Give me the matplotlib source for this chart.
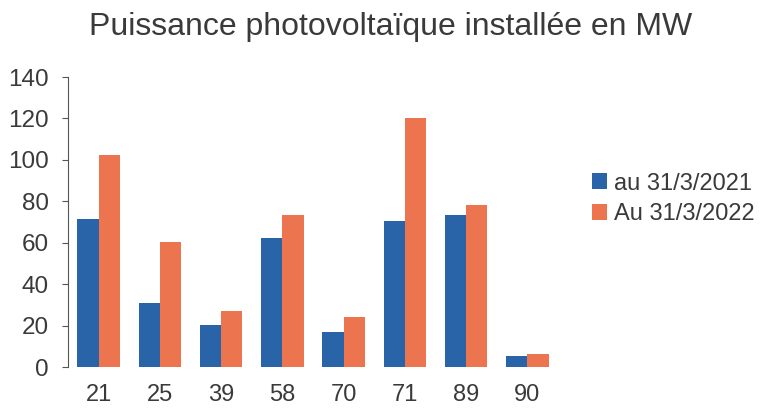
import matplotlib

matplotlib.use("Agg")
import matplotlib.pyplot as plt
import numpy as np

departements = ["21", "25", "39", "58", "70", "71", "89", "90"]
mw_2021 = [71.3, 31.1, 20.2, 62.1, 16.9, 70.6, 73.4, 5.2]
mw_2022 = [102.3, 60.5, 26.9, 73.4, 23.9, 120.3, 78.4, 6.4]
series_labels = ["au 31/3/2021", "Au 31/3/2022"]
title = "Puissance photovoltaïque installée en MW"

plt.rcParams["font.family"] = ["Liberation Sans", "DejaVu Sans"]
text_color = "#3a3a3a"

fig = plt.figure(figsize=(7.62, 4.09), dpi=100)
ax = fig.add_axes([68 / 762, 1 - 367 / 409, 490 / 762, 290 / 409])

x = np.arange(len(departements))
width = 0.345
ax.bar(x - width / 2, mw_2021, width, color="#2a64a8", label=series_labels[0])
ax.bar(x + width / 2, mw_2022, width, color="#ec7550", label=series_labels[1])

ax.set_xlim(-0.5, len(departements) - 0.5)
ax.set_ylim(0, 140)
ax.set_yticks(range(0, 141, 20))
ax.set_xticks(x)
ax.set_xticklabels(departements)
for side in ("top", "right", "bottom"):
    ax.spines[side].set_visible(False)
ax.spines["left"].set_color("#555555")
ax.spines["left"].set_linewidth(0.8)
ax.tick_params(axis="y", length=4, width=0.8, color="#555555", labelsize=17.5, labelcolor=text_color, pad=10)
ax.tick_params(axis="x", length=0, labelsize=17, labelcolor=text_color, pad=12)

fig.text(0.512, 0.935, title, ha="center", va="center", fontsize=23, color=text_color)

ax.legend(loc="center left", bbox_to_anchor=(1.025, 0.58), frameon=False, fontsize=17,
          handlelength=0.65, handleheight=0.65, handletextpad=0.3, labelspacing=0.35,
          labelcolor=text_color)

fig.savefig("out.png", dpi=100)
